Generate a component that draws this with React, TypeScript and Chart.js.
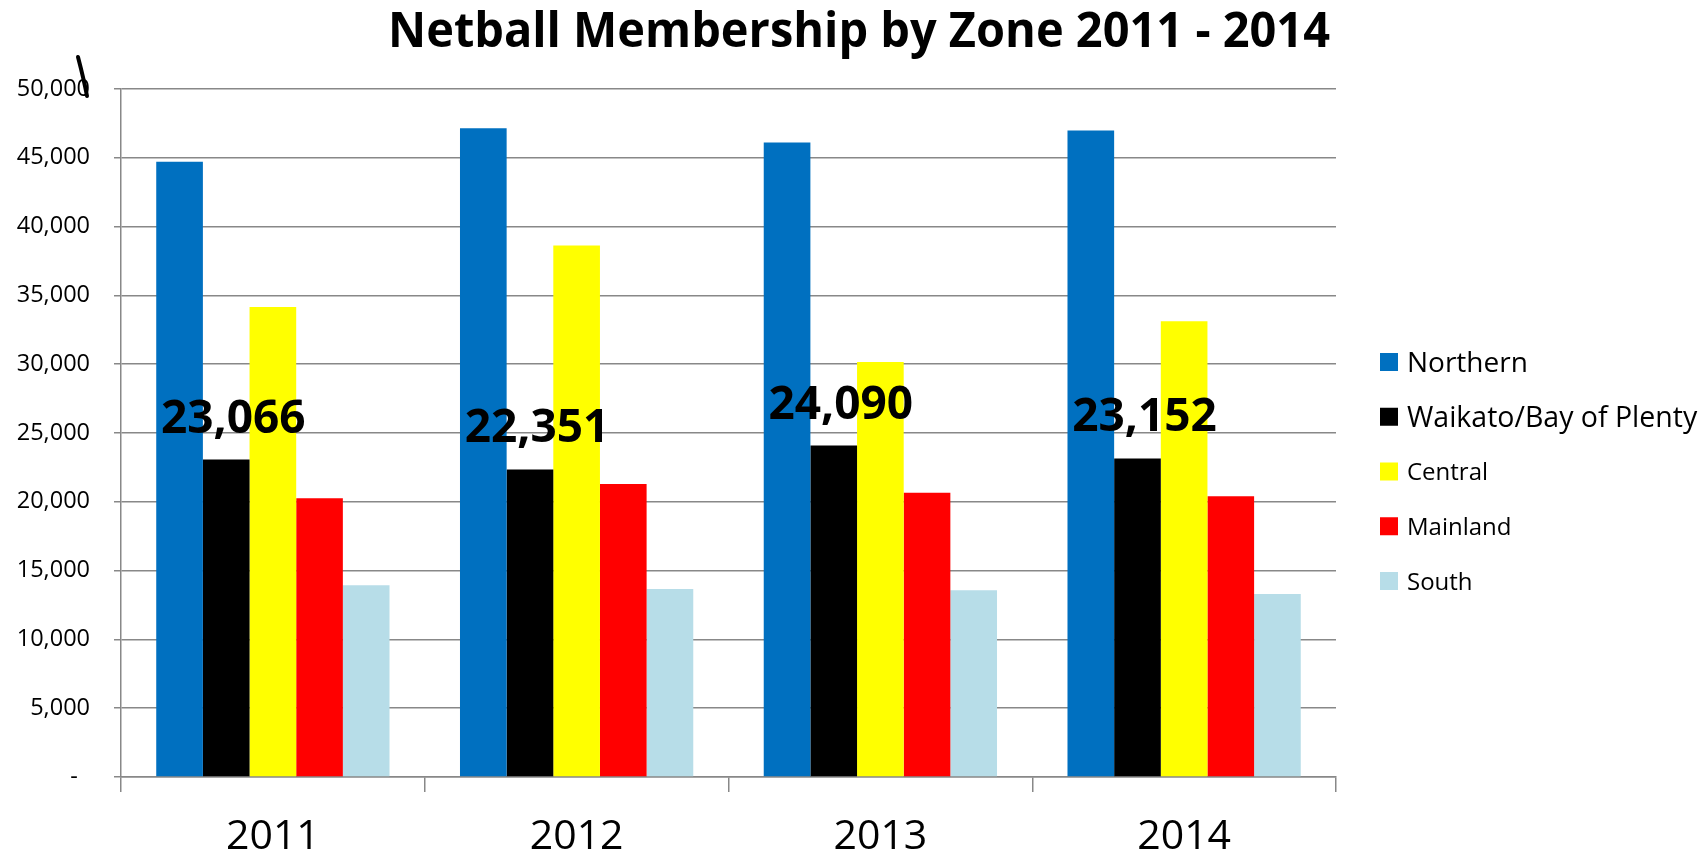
import React, { useEffect, useRef } from "react";
import { Chart, registerables } from "chart.js";

Chart.register(...registerables);

const TITLE = "Netball Membership by Zone 2011 - 2014";
const categories = ["2011", "2012", "2013", "2014"];
const seriesNames = ["Northern", "Waikato/Bay of Plenty", "Central", "Mainland", "South"];
const northern = [44720, 47140, 46120, 46990];
const waikato = [23066, 22351, 24090, 23152];
const central = [34160, 38620, 30160, 33120];
const mainland = [20260, 21300, 20650, 20400];
const south = [13930, 13660, 13570, 13300];
const seriesValues = [northern, waikato, central, mainland, south];
const seriesColors = ["#0070C0", "#000000", "#FFFF00", "#FF0000", "#B7DDE8"];
const yTicks = [0, 5000, 10000, 15000, 20000, 25000, 30000, 35000, 40000, 45000, 50000];
const labelledSeries = 1;

const FONT = '"Open Sans", "Noto Sans", sans-serif';

const fmt = (v: number) => (v === 0 ? "-  " : v.toLocaleString("en-US"));

const decorPlugin = {
  id: "decor",
  afterDatasetsDraw(chart: any) {
    const ctx = chart.ctx;
    const meta = chart.getDatasetMeta(labelledSeries);
    ctx.save();
    ctx.font = `bold 46px ${FONT}`;
    ctx.fillStyle = "#000";
    ctx.textAlign = "center";
    ctx.textBaseline = "alphabetic";
    meta.data.forEach((el: any, i: number) => {
      const v = chart.data.datasets[labelledSeries].data[i] as number;
      ctx.fillText(v.toLocaleString("en-US"), el.x + 7, el.y - 27);
    });
    ctx.restore();
  },
  afterDraw(chart: any) {
    const ctx = chart.ctx;
    ctx.save();
    ctx.font = `bold 48px ${FONT}`;
    ctx.fillStyle = "#000";
    ctx.textBaseline = "alphabetic";
    ctx.textAlign = "center";
    const w = ctx.measureText(TITLE).width;
    const sx = 942 / w;
    ctx.translate(859, 47);
    ctx.scale(sx, 1);
    ctx.fillText(TITLE, 0, 0);
    ctx.restore();

    ctx.save();
    const sizes = [28, 28.5, 24, 24, 24];
    chart.data.datasets.forEach((ds: any, i: number) => {
      const cy = 362 + i * 54.75;
      ctx.fillStyle = ds.backgroundColor;
      ctx.fillRect(1380, cy - 9, 18, 18);
      ctx.fillStyle = "#000";
      ctx.font = `${sizes[i]}px ${FONT}`;
      ctx.textAlign = "left";
      ctx.textBaseline = "alphabetic";
      ctx.fillText(ds.label, 1407, cy + sizes[i] * 0.357);
    });
    ctx.restore();

    ctx.save();
    ctx.strokeStyle = "#000";
    ctx.lineWidth = 4;
    ctx.lineCap = "round";
    ctx.beginPath();
    ctx.moveTo(78, 57);
    ctx.quadraticCurveTo(84, 80, 87, 96);
    ctx.stroke();
    ctx.restore();
  },
};

export default function App() {
  const ref = useRef<HTMLCanvasElement | null>(null);
  useEffect(() => {
    document.body.style.margin = "0";
    const canvas = ref.current!;
    const chart = new Chart(canvas, {
      type: "bar",
      data: {
        labels: categories,
        datasets: seriesNames.map((name, i) => ({
          label: name,
          data: seriesValues[i],
          backgroundColor: seriesColors[i],
          borderWidth: 0,
          categoryPercentage: 0.768,
          barPercentage: 1,
        })),
      },
      options: {
        animation: false,
        responsive: false,
        devicePixelRatio: 1,
        layout: { padding: { top: 89, right: 367, bottom: 0, left: 0 } },
        plugins: {
          legend: { display: false },
          title: { display: false },
          tooltip: { enabled: false },
        },
        scales: {
          x: {
            offset: true,
            grid: {
              display: true,
              offset: true,
              drawOnChartArea: false,
              drawTicks: true,
              tickLength: 15,
              color: "#888888",
              lineWidth: 1.5,
            },
            border: { display: true, color: "#888888", width: 1.5 },
            ticks: {
              font: { family: FONT, size: 41 },
              color: "#000",
              padding: 21,
            },
            afterFit(scale: any) {
              scale.height = 80;
            },
          },
          y: {
            min: 0,
            max: 50000,
            afterBuildTicks(scale: any) {
              scale.ticks = yTicks.map((v) => ({ value: v }));
            },
            grid: {
              color: "#888888",
              lineWidth: 1.5,
              drawTicks: true,
              tickLength: 7,
            },
            border: { display: true, color: "#888888", width: 1.5 },
            ticks: {
              font: { family: FONT, size: 23.5 },
              color: "#000",
              padding: 24,
              callback: (v: any) => fmt(Number(v)),
            },
            afterFit(scale: any) {
              scale.width = 121;
            },
          },
        },
      },
      plugins: [decorPlugin],
    });
    return () => chart.destroy();
  }, []);
  return (
    <div style={{ width: 1703, height: 857 }}>
      <canvas ref={ref} width={1703} height={857} style={{ width: 1703, height: 857, display: "block" }} />
    </div>
  );
}
